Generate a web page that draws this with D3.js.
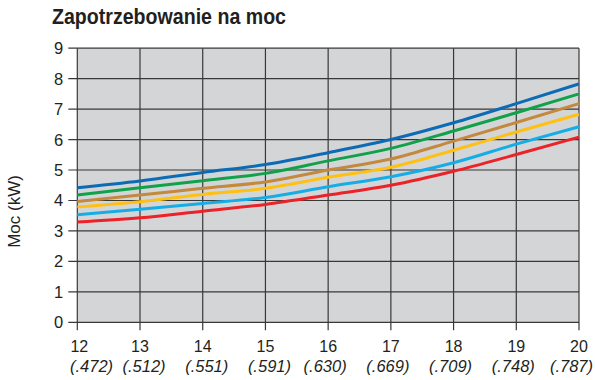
<!DOCTYPE html>
<html>
<head>
<meta charset="utf-8">
<script src="https://cdn.jsdelivr.net/npm/d3@7"></script>
<style>
  html, body { margin: 0; padding: 0; background: #fff; }
  svg { display: block; }
  text { font-family: "Liberation Sans", Arial, Helvetica, sans-serif; fill: #231f20; }
</style>
</head>
<body>
<svg id="chart" width="595" height="380"></svg>
<script>
// Temperatures on the x axis and their companion values shown in brackets
const temps = [12, 13, 14, 15, 16, 17, 18, 19, 20];
const tempSub = ["(.472)", "(.512)", "(.551)", "(.591)", "(.630)", "(.669)", "(.709)", "(.748)", "(.787)"];
const yTicks = [0, 1, 2, 3, 4, 5, 6, 7, 8, 9];

// Power demand curves (kW), one per series, at each temperature
const blueVals   = [4.42, 4.64, 4.92, 5.18, 5.57, 6.00, 6.55, 7.18, 7.83];
const greenVals  = [4.18, 4.42, 4.65, 4.89, 5.30, 5.71, 6.28, 6.88, 7.50];
const brownVals  = [3.97, 4.18, 4.40, 4.61, 5.00, 5.36, 5.95, 6.56, 7.18];
const yellowVals = [3.79, 3.96, 4.20, 4.40, 4.76, 5.09, 5.65, 6.25, 6.83];
const cyanVals   = [3.53, 3.71, 3.90, 4.10, 4.45, 4.78, 5.24, 5.85, 6.42];
const redVals    = [3.29, 3.43, 3.65, 3.87, 4.18, 4.50, 4.96, 5.51, 6.08];

const seriesList = [
  { name: "blue",   values: blueVals,   color: "#0c6bb5" },
  { name: "green",  values: greenVals,  color: "#10a24b" },
  { name: "brown",  values: brownVals,  color: "#c3893c" },
  { name: "yellow", values: yellowVals, color: "#fdc013" },
  { name: "cyan",   values: cyanVals,   color: "#15ade7" },
  { name: "red",    values: redVals,    color: "#ec2229" }
];

const svg = d3.select("#chart");
const x = d3.scaleLinear().domain([12, 20]).range([77.3, 579]);
const y = d3.scaleLinear().domain([0, 9]).range([322.3, 48.2]);

// Title
svg.append("text")
  .attr("x", 52).attr("y", 24)
  .attr("font-size", 22).attr("font-weight", "bold")
  .attr("textLength", 234).attr("lengthAdjust", "spacingAndGlyphs")
  .text("Zapotrzebowanie na moc");

// Plot background
svg.append("rect")
  .attr("x", x(12)).attr("y", y(9))
  .attr("width", x(20) - x(12)).attr("height", y(0) - y(9))
  .attr("fill", "#d4d5d7");

// Grid
const grid = svg.append("g").attr("stroke", "#383838").attr("stroke-width", 1.2);
grid.selectAll("line.h").data(yTicks).join("line")
  .attr("class", "h")
  .attr("x1", x(12) - 9).attr("x2", x(20))
  .attr("y1", d => y(d)).attr("y2", d => y(d));
grid.selectAll("line.v").data(temps).join("line")
  .attr("class", "v")
  .attr("x1", d => x(d)).attr("x2", d => x(d))
  .attr("y1", y(9)).attr("y2", y(0) + 8);

// Y tick labels
svg.append("g").selectAll("text").data(yTicks).join("text")
  .attr("x", x(12) - 14).attr("y", d => y(d) + 6)
  .attr("text-anchor", "end").attr("font-size", 16.5)
  .text(d => d);

// Y axis title
svg.append("text")
  .attr("transform", `translate(19.5, 211.5) rotate(-90)`)
  .attr("text-anchor", "middle").attr("font-size", 17)
  .text("Moc (kW)");

// X tick labels, two rows
svg.append("g").selectAll("text").data(temps).join("text")
  .attr("x", d => x(d) + (d === 12 ? 2 : 0)).attr("y", 351.7)
  .attr("text-anchor", "middle").attr("font-size", 16)
  .text(d => d);

const n = temps.length;
svg.append("g").selectAll("text").data(tempSub).join("text")
  .attr("x", (d, i) => i === 0 ? 70 : i === n - 1 ? 593 : x(temps[i]) + (i < 4 ? 4 : -3))
  .attr("y", 371.7)
  .attr("text-anchor", (d, i) => i === 0 ? "start" : i === n - 1 ? "end" : "middle")
  .attr("font-size", 16.5).attr("font-style", "italic")
  .text(d => d);

// Curves
const line = d3.line()
  .x((d, i) => x(temps[i]))
  .y(d => y(d))
  .curve(d3.curveMonotoneX);

svg.append("g").selectAll("path").data(seriesList).join("path")
  .attr("d", d => line(d.values))
  .attr("fill", "none")
  .attr("stroke", d => d.color)
  .attr("stroke-width", 3)
  .attr("stroke-linecap", "butt");
</script>
</body>
</html>
